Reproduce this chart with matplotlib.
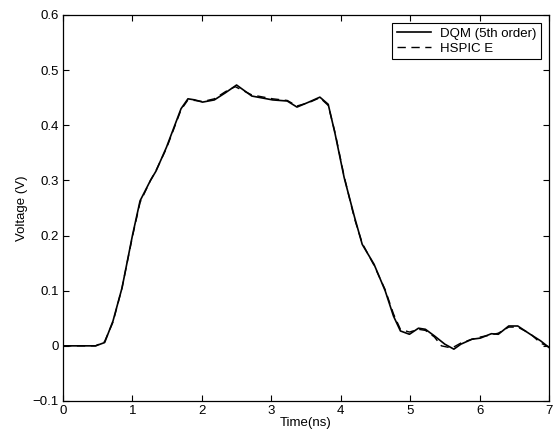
import numpy as np
import matplotlib.pyplot as plt

plt.rcParams['font.family'] = ['Liberation Sans', 'DejaVu Sans']

# DQM (5th order) waveform
t_dqm = [0.0, 0.47, 0.6, 0.72, 0.85, 1.0, 1.11, 1.26, 1.34, 1.49, 1.70, 1.80, 1.90,
         2.01, 2.18, 2.34, 2.50, 2.72, 3.02, 3.23, 3.37, 3.54, 3.70, 3.82, 3.92,
         4.05, 4.20, 4.31, 4.48, 4.64, 4.76, 4.86, 4.99, 5.12, 5.22, 5.35, 5.50,
         5.63, 5.73, 5.89, 6.01, 6.17, 6.27, 6.42, 6.55, 6.73, 6.88, 7.0]
v_dqm = [0.0, 0.0, 0.006, 0.045, 0.105, 0.20, 0.263, 0.30, 0.317, 0.36, 0.43, 0.448, 0.446,
         0.442, 0.446, 0.459, 0.473, 0.453, 0.446, 0.444, 0.433, 0.442, 0.451, 0.438, 0.384,
         0.305, 0.233, 0.184, 0.148, 0.10, 0.054, 0.027, 0.021, 0.032, 0.030, 0.018, 0.003,
         -0.006, 0.003, 0.012, 0.014, 0.022, 0.021, 0.036, 0.036, 0.021, 0.009, -0.003]

# HSPICE E waveform
t_hsp = [0.0, 0.47, 0.6, 0.72, 0.85, 1.0, 1.11, 1.26, 1.34, 1.49, 1.70, 1.80, 1.90,
         2.01, 2.18, 2.34, 2.48, 2.72, 3.02, 3.23, 3.37, 3.54, 3.70, 3.82, 3.92,
         4.05, 4.20, 4.31, 4.48, 4.64, 4.76, 4.86, 4.99, 5.12, 5.22, 5.35, 5.45,
         5.60, 5.73, 5.89, 6.01, 6.17, 6.27, 6.42, 6.55, 6.73, 6.88, 7.0]
v_hsp = [0.0, 0.0, 0.008, 0.043, 0.105, 0.198, 0.26, 0.30, 0.318, 0.358, 0.428, 0.446, 0.445,
         0.443, 0.448, 0.461, 0.470, 0.455, 0.448, 0.445, 0.435, 0.441, 0.450, 0.436, 0.386,
         0.307, 0.230, 0.186, 0.146, 0.102, 0.058, 0.030, 0.025, 0.030, 0.028, 0.016, 0.000,
         -0.004, 0.005, 0.012, 0.016, 0.020, 0.023, 0.034, 0.034, 0.022, 0.005, -0.002]

fig = plt.figure(figsize=(5.56, 4.37), dpi=100)
ax = fig.add_axes([0.1133, 0.0824, 0.8741, 0.8833])
ax.plot(t_dqm, v_dqm, 'k-', lw=1.2, label='DQM (5th order)')
ax.plot(t_hsp, v_hsp, 'k--', lw=1.0, dashes=(6, 4), label='HSPIC E')
ax.set_xlim(0, 7)
ax.set_ylim(-0.1, 0.6)
ax.set_xticks(range(8))
ax.set_yticks([-0.1, 0, 0.1, 0.2, 0.3, 0.4, 0.5, 0.6])
ax.set_yticklabels(['\u22120.1', '0', '0.1', '0.2', '0.3', '0.4', '0.5', '0.6'])
ax.tick_params(direction='in', top=True, right=True, labelsize=9.5, length=4, pad=3)
for s in ax.spines.values():
    s.set_linewidth(0.9)
ax.set_xlabel('Time(ns)', fontsize=9.5, labelpad=0)
ax.set_ylabel('Voltage (V)', fontsize=9.5, labelpad=3)
leg = ax.legend(loc='upper right', fontsize=9.5, fancybox=False, edgecolor='k',
                framealpha=1, borderaxespad=0.6, handlelength=2.6, borderpad=0.35,
                labelspacing=0.2, handletextpad=0.7)
leg.get_frame().set_linewidth(0.8)
plt.savefig('out.png')
